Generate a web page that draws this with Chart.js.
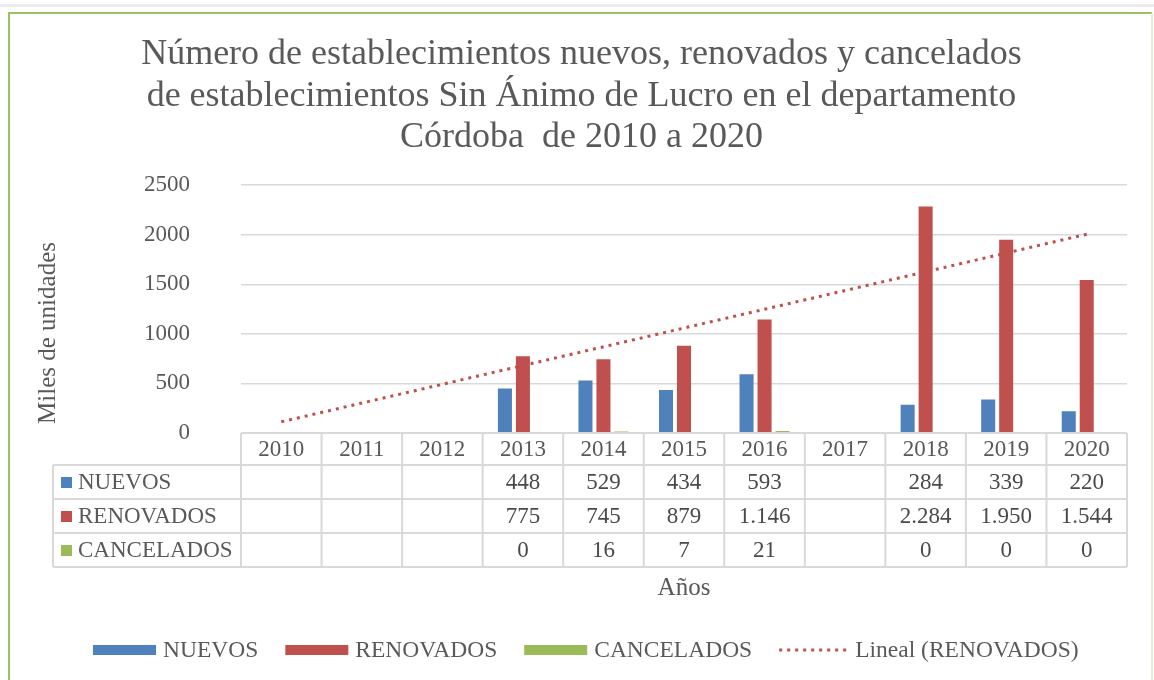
<!DOCTYPE html>
<html>
<head>
<meta charset="utf-8">
<script src="https://cdn.jsdelivr.net/npm/chart.js@4.4.1/dist/chart.umd.min.js"></script>
<style>
  html, body { margin: 0; padding: 0; background: #ffffff; overflow: hidden; }
  canvas { display: block; }
</style>
</head>
<body>
<canvas id="c" width="1154" height="680"></canvas>
<script>
// ---- data ----
const years = ['2010', '2011', '2012', '2013', '2014', '2015', '2016', '2017', '2018', '2019', '2020'];
const nuevos = [null, null, null, 448, 529, 434, 593, null, 284, 339, 220];
const renovados = [null, null, null, 775, 745, 879, 1146, null, 2284, 1950, 1544];
const cancelados = [null, null, null, 0, 16, 7, 21, null, 0, 0, 0];
// linear trend of RENOVADOS, endpoints
const trendRenovados = [113, null, null, null, null, null, null, null, null, null, 2005];
const seriesNames = ['NUEVOS', 'RENOVADOS', 'CANCELADOS'];
const trendName = 'Lineal (RENOVADOS)';
const titleLines = [
  'Número de establecimientos nuevos, renovados y cancelados',
  'de establecimientos Sin Ánimo de Lucro en el departamento',
  'Córdoba  de 2010 a 2020'
];
const yAxisTitle = 'Miles de unidades';
const xAxisTitle = 'Años';
const yMin = 0, yMax = 2500, yStep = 500;

// ---- style ----
const SERIF = '"Liberation Serif", "Times New Roman", serif';
const TXT = '#595959';
const GRID = '#d9d9d9';
const COLORS = ['#4F81BD', '#C0504D', '#9BBB59'];

function fmt(v) {
  if (v === null || v === undefined) return '';
  return String(v).replace(/\B(?=(\d{3})+(?!\d))/g, '.');
}

const decorPlugin = {
  id: 'decor',
  beforeDraw(chart) {
    const ctx = chart.ctx;
    ctx.save();
    ctx.fillStyle = '#ffffff';
    ctx.fillRect(0, 0, chart.width, chart.height);
    ctx.fillStyle = '#ebebeb';
    ctx.fillRect(0, 4, chart.width, 3);
    ctx.strokeStyle = '#9BC260';
    ctx.lineWidth = 2;
    ctx.beginPath();
    ctx.moveTo(9, 700); ctx.lineTo(9, 13); ctx.lineTo(1152, 13);
    ctx.stroke();
    ctx.strokeStyle = '#dde8c6';
    ctx.lineWidth = 1.5;
    ctx.beginPath();
    ctx.moveTo(1152, 13); ctx.lineTo(1152, 700);
    ctx.stroke();
    ctx.restore();
  },
  afterDraw(chart) {
    const ctx = chart.ctx;
    const xs = chart.scales.x;
    const area = chart.chartArea;
    const n = years.length;
    const colW = (area.right - area.left) / n;
    const rowTops = [area.bottom, area.bottom + 32, area.bottom + 66, area.bottom + 100, area.bottom + 134];
    const labelLeft = 53;
    ctx.save();
    // table lines
    ctx.strokeStyle = GRID;
    ctx.lineWidth = 2;
    ctx.beginPath();
    ctx.moveTo(area.left, rowTops[0]); ctx.lineTo(area.right, rowTops[0]);
    for (let r = 1; r < rowTops.length; r++) {
      ctx.moveTo(labelLeft, rowTops[r]); ctx.lineTo(area.right, rowTops[r]);
    }
    for (let i = 0; i <= n; i++) {
      const x = area.left + i * colW;
      ctx.moveTo(x, rowTops[0]); ctx.lineTo(x, rowTops[4]);
    }
    ctx.moveTo(labelLeft, rowTops[1]); ctx.lineTo(labelLeft, rowTops[4]);
    ctx.stroke();

    // header years
    ctx.font = '23px ' + SERIF;
    ctx.textAlign = 'center';
    ctx.textBaseline = 'middle';
    ctx.fillStyle = TXT;
    years.forEach((y, i) => {
      ctx.fillText(y, xs.getPixelForValue(i), (rowTops[0] + rowTops[1]) / 2 + 1);
    });
    // rows
    const rows = [nuevos, renovados, cancelados];
    rows.forEach((arr, r) => {
      const cy = (rowTops[r + 1] + rowTops[r + 2]) / 2 + 1;
      ctx.fillStyle = COLORS[r];
      ctx.fillRect(61, cy - 6, 11, 11);
      ctx.fillStyle = TXT;
      ctx.textAlign = 'left';
      ctx.fillText(seriesNames[r], 78, cy);
      ctx.textAlign = 'center';
      ctx.fillStyle = '#4a4a4a';
      arr.forEach((v, i) => {
        ctx.fillText(fmt(v), xs.getPixelForValue(i), cy);
      });
    });

    // x axis title
    ctx.fillStyle = TXT;
    ctx.font = '25px ' + SERIF;
    ctx.textAlign = 'center';
    ctx.fillText(xAxisTitle, (area.left + area.right) / 2, 588);

    // y axis title
    ctx.save();
    ctx.translate(48, 333);
    ctx.rotate(-Math.PI / 2);
    ctx.fillText(yAxisTitle, 0, 0);
    ctx.restore();

    // legend
    ctx.font = '23.5px ' + SERIF;
    ctx.textAlign = 'left';
    let x = 93;
    const ly = 650;
    seriesNames.forEach((name, r) => {
      ctx.fillStyle = COLORS[r];
      ctx.fillRect(x, ly - 5, 63, 10);
      x += 70;
      ctx.fillStyle = TXT;
      ctx.fillText(name, x, ly + 1);
      x += ctx.measureText(name).width + 27;
    });
    ctx.strokeStyle = COLORS[1];
    ctx.lineWidth = 3;
    ctx.setLineDash([3, 5]);
    ctx.beginPath();
    ctx.moveTo(x, ly); ctx.lineTo(x + 70, ly);
    ctx.stroke();
    ctx.setLineDash([]);
    x += 76;
    ctx.fillStyle = TXT;
    ctx.fillText(trendName, x, ly + 1);
    ctx.restore();
  }
};

new Chart(document.getElementById('c'), {
  data: {
    labels: years,
    datasets: [
      {
        type: 'line', label: trendName, data: trendRenovados, spanGaps: true,
        borderColor: COLORS[1], borderWidth: 3, borderDash: [3, 5],
        pointRadius: 0, fill: false, order: 0
      },
      { type: 'bar', label: seriesNames[0], data: nuevos, backgroundColor: COLORS[0], order: 1,
        barPercentage: 0.78, categoryPercentage: 0.67 },
      { type: 'bar', label: seriesNames[1], data: renovados, backgroundColor: COLORS[1], order: 1,
        barPercentage: 0.78, categoryPercentage: 0.67 },
      { type: 'bar', label: seriesNames[2], data: cancelados, backgroundColor: COLORS[2], order: 1,
        barPercentage: 0.78, categoryPercentage: 0.67 }
    ]
  },
  options: {
    responsive: false,
    animation: false,
    devicePixelRatio: 1,
    layout: { padding: { left: 36, right: 27, top: 0, bottom: 247 } },
    plugins: {
      legend: { display: false },
      tooltip: { enabled: false },
      title: {
        display: true,
        text: titleLines,
        color: TXT,
        font: { family: SERIF, size: 36, weight: 'normal', lineHeight: 1.15 },
        padding: { top: 34, bottom: 27 }
      }
    },
    scales: {
      x: { display: false },
      y: {
        min: yMin, max: yMax,
        border: { display: false },
        grid: { color: GRID, lineWidth: 1.5, drawTicks: false },
        ticks: {
          stepSize: yStep, padding: 51, color: TXT, font: { family: SERIF, size: 23 },
          callback: (v) => String(v)
        },
        afterFit(scale) { scale.width = 205; }
      }
    }
  },
  plugins: [decorPlugin]
});
</script>
</body>
</html>
